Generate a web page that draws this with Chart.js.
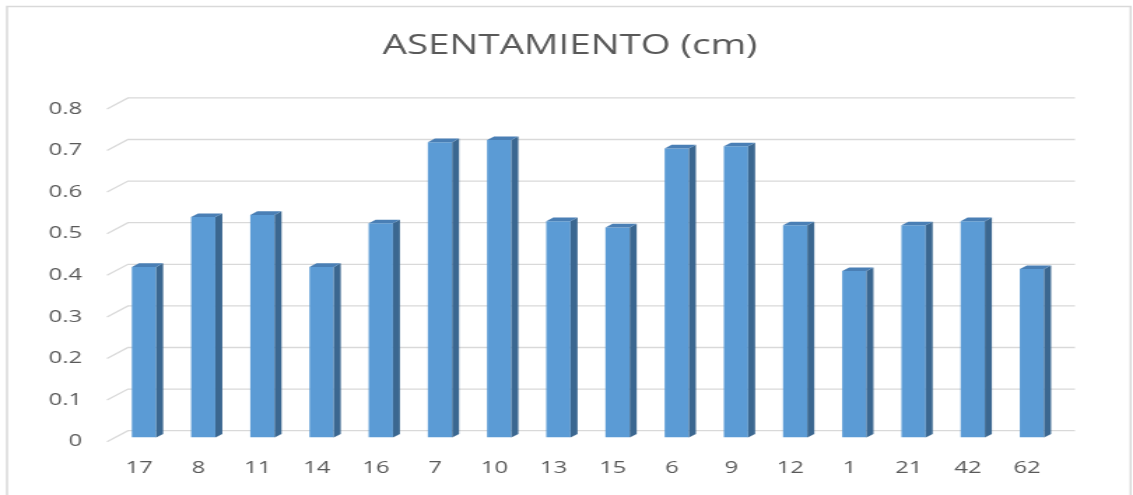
<!DOCTYPE html>
<html>
<head>
<meta charset="utf-8">
<script src="https://cdn.jsdelivr.net/npm/chart.js@4/dist/chart.umd.min.js"></script>
<style>
    html, body { margin: 0; padding: 0; background: #ffffff; overflow: hidden; }
    /* the chart is laid out narrow and widened, like the stretched Excel export */
    #wrap { width: 810px; height: 495px; transform: scaleX(1.39877); transform-origin: 0 0; }
</style>
</head>
<body>
<div id="wrap"><canvas id="asentamientoChart"></canvas></div>
<script>
const chartTitle = 'ASENTAMIENTO (cm)';
const categories = ['17', '8', '11', '14', '16', '7', '10', '13', '15', '6', '9', '12', '1', '21', '42', '62'];
const asentamiento = [0.41, 0.53, 0.535, 0.41, 0.515, 0.71, 0.715, 0.52, 0.505, 0.695, 0.70, 0.51, 0.40, 0.51, 0.52, 0.405];
const yTickLabels = ['0', '0.1', '0.2', '0.3', '0.4', '0.5', '0.6', '0.7', '0.8'];

const textColor = '#595959';
const gridColor = '#d9d9d9';
const frontColor = '#5b9bd5';
const sideColor = '#3b6790';
const topColor = '#4a7fb5';

// fake 3D: depth of the side/top faces
const depthX = 5;
const depthY = 3.6;

const frame3d = {
    id: 'frame3d',
    beforeDatasetsDraw(chart) {
        const ctx = chart.ctx;
        const y = chart.scales.y;
        ctx.save();
        // outer chart border
        ctx.strokeStyle = gridColor;
        ctx.lineWidth = 1.5;
        ctx.strokeRect(5, 6.5, 803.3, 500);
        // gridlines on the back wall, with the slanted floor edge on the left
        ctx.lineWidth = 1.3;
        y.ticks.forEach(t => {
            const py = y.getPixelForValue(t.value);
            ctx.beginPath();
            ctx.moveTo(76.5, py + 4.2);
            ctx.lineTo(91.5, py - 6.8);
            ctx.lineTo(768.5, py - 6.8);
            ctx.stroke();
        });
        ctx.restore();
    },
    afterDatasetsDraw(chart) {
        const ctx = chart.ctx;
        ctx.save();
        chart.getDatasetMeta(0).data.forEach(bar => {
            const { x, y, base, width } = bar.getProps(['x', 'y', 'base', 'width'], true);
            const l = x - width / 2;
            const r = x + width / 2;
            // right side face
            ctx.fillStyle = sideColor;
            ctx.beginPath();
            ctx.moveTo(r, y);
            ctx.lineTo(r + depthX, y - depthY);
            ctx.lineTo(r + depthX, base - depthY);
            ctx.lineTo(r, base);
            ctx.closePath();
            ctx.fill();
            // top face
            ctx.fillStyle = topColor;
            ctx.beginPath();
            ctx.moveTo(l, y);
            ctx.lineTo(l + depthX, y - depthY);
            ctx.lineTo(r + depthX, y - depthY);
            ctx.lineTo(r, y);
            ctx.closePath();
            ctx.fill();
        });
        ctx.restore();
    },
    afterDraw(chart) {
        // title centred on the whole frame, not on the plot box
        const ctx = chart.ctx;
        ctx.save();
        ctx.fillStyle = textColor;
        ctx.font = '27.5px "Open Sans"';
        ctx.textAlign = 'center';
        ctx.textBaseline = 'middle';
        ctx.fillText(chartTitle, 407.5, 46.2);
        ctx.restore();
    }
};

new Chart(document.getElementById('asentamientoChart'), {
    type: 'bar',
    data: {
        labels: categories,
        datasets: [{
            label: chartTitle,
            data: asentamiento,
            backgroundColor: frontColor,
            borderWidth: 0,
            barPercentage: 0.41,
            categoryPercentage: 1
        }]
    },
    options: {
        responsive: true,
        maintainAspectRatio: false,
        animation: false,
        layout: {
            padding: { left: 0, right: 51.1, top: 104.7, bottom: 17 }
        },
        plugins: {
            legend: { display: false },
            tooltip: { enabled: false },
            title: { display: false }
        },
        scales: {
            x: {
                offset: true,
                grid: { display: false, drawTicks: false },
                border: { display: false },
                afterFit(scale) { scale.height = 40.5; },
                ticks: {
                    color: textColor,
                    font: { family: 'Open Sans', size: 17 },
                    padding: 20,
                    labelOffset: -3.4,
                    maxRotation: 0
                }
            },
            y: {
                min: 0,
                max: 0.8,
                grid: { display: false, drawTicks: false },
                border: { display: false },
                afterFit(scale) { scale.width = 81.8; },
                ticks: {
                    stepSize: 0.1,
                    color: textColor,
                    font: { family: 'Open Sans', size: 17 },
                    padding: 23.2,
                    labelOffset: 4,
                    callback: (v, i) => yTickLabels[i]
                }
            }
        }
    },
    plugins: [frame3d]
});
</script>
</body>
</html>
